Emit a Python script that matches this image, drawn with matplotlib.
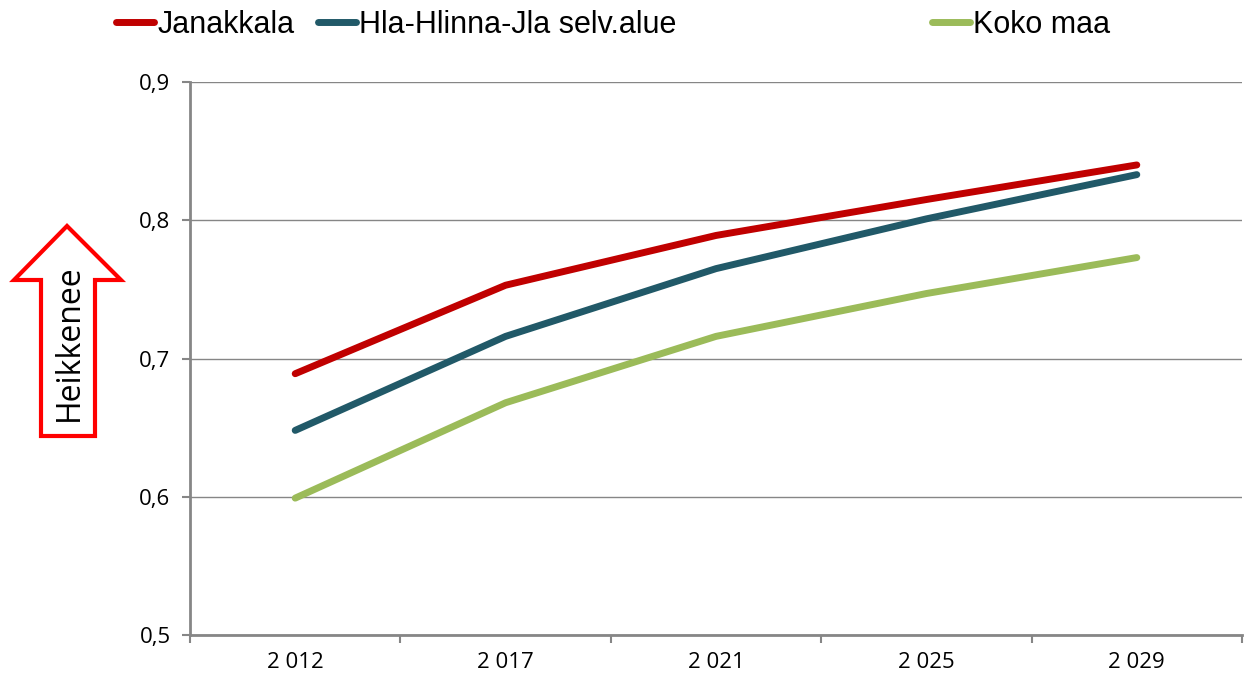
import matplotlib
matplotlib.use('Agg')
import matplotlib.pyplot as plt
from matplotlib.patches import Polygon

# donnees
years = ['2 012', '2 017', '2 021', '2 025', '2 029']
janakkala = [0.689, 0.753, 0.789, 0.815, 0.840]
hla_hlinna = [0.648, 0.716, 0.765, 0.801, 0.833]
koko_maa = [0.599, 0.668, 0.716, 0.747, 0.773]
series_names = ['Janakkala', 'Hla-Hlinna-Jla selv.alue', 'Koko maa']
colors = ['#C00000', '#215968', '#9BBB59']

plt.rcParams['font.family'] = ['Open Sans', 'DejaVu Sans']

W, H = 1252, 684
fig = plt.figure(figsize=(W / 100, H / 100), dpi=100)
ax = fig.add_axes([190 / W, 49 / H, 1052 / W, 553 / H])

x = list(range(len(years)))
lines = []
for vals, name, c in zip([janakkala, hla_hlinna, koko_maa], series_names, colors):
    ln, = ax.plot(x, vals, color=c, lw=5, label=name, solid_capstyle='round')
    lines.append(ln)

grid_c = '#868686'
ax.set_xlim(-0.5, len(years) - 0.5)
ax.set_ylim(0.5, 0.9)
ax.set_yticks([0.5, 0.6, 0.7, 0.8, 0.9])
ax.set_yticklabels(['0,5', '0,6', '0,7', '0,8', '0,9'])
ax.set_xticks(x)
ax.set_xticklabels(years)
ax.set_xticks([i - 0.5 for i in range(len(years) + 1)], minor=True)
ax.tick_params(axis='x', which='major', length=0, pad=12, labelsize=16)
ax.tick_params(axis='x', which='minor', length=6, color=grid_c, width=1.5)
ax.tick_params(axis='y', length=6, color=grid_c, width=1.5, pad=8, labelsize=16)
ax.grid(axis='y', color=grid_c, lw=1)
for s in ['top', 'right']:
    ax.spines[s].set_visible(False)
for s in ['left', 'bottom']:
    ax.spines[s].set_color(grid_c)
    ax.spines[s].set_linewidth(2)

# une legende par serie, placees comme dans l'original
for ln, name, x0 in zip(lines, series_names, [116, 318, 932]):
    leg = fig.legend([ln], [name], loc='upper left', bbox_to_anchor=(x0 / W, 1 - 10 / H),
                     frameon=False, handlelength=1.25, handletextpad=0.1,
                     borderpad=0, borderaxespad=0,
                     prop={'family': 'Liberation Sans', 'size': 22})

# fleche "Heikkenee"
pts = [(67, 226), (121, 280), (95, 280), (95, 436), (41, 436), (41, 280), (14, 280)]
arrow = Polygon([(px / W, 1 - py / H) for px, py in pts], closed=True,
                transform=fig.transFigure, facecolor='white', edgecolor='#FF0000',
                lw=3, joinstyle='miter')
fig.patches.append(arrow)
fig.text(69 / W, 1 - 343 / H, 'Heikkenee', rotation=90, ha='center', va='center',
         fontsize=23)

fig.savefig('out.png', dpi=100)
